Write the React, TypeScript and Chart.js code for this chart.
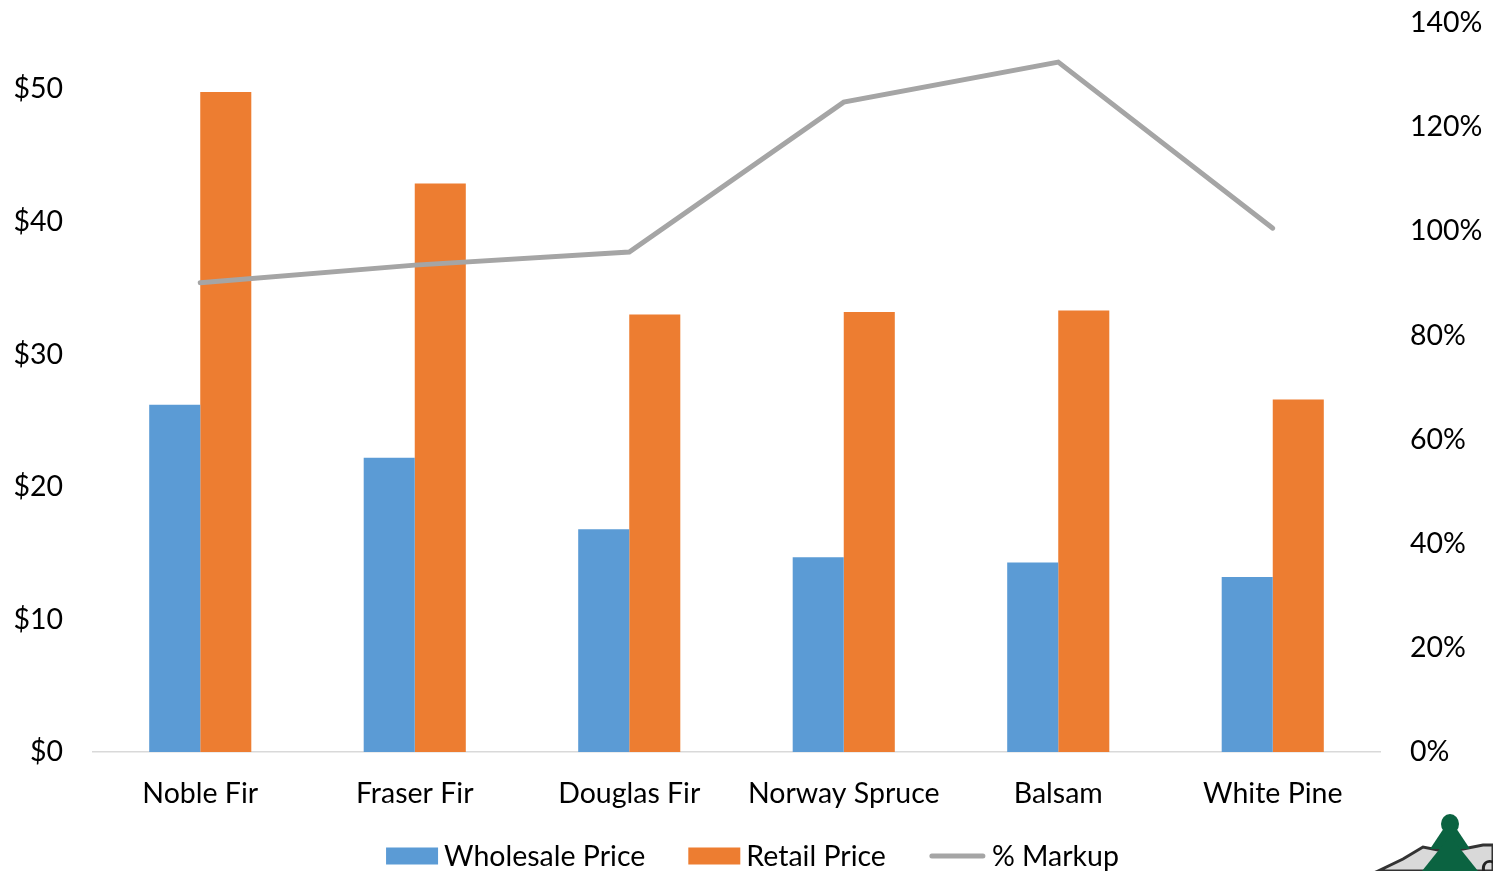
import React, { useEffect, useRef } from "react";
import { Chart, registerables } from "chart.js";

Chart.register(...registerables);

const categories = ["Noble Fir", "Fraser Fir", "Douglas Fir", "Norway Spruce", "Balsam", "White Pine"];
const wholesalePrice = [26.2, 22.2, 16.8, 14.7, 14.3, 13.2];
const retailPrice = [49.8, 42.9, 33.0, 33.2, 33.3, 26.6];
const markupPct = [90.1, 93.5, 96.0, 124.8, 132.5, 100.6];
const leftTicks = [0, 10, 20, 30, 40, 50];
const rightTicks = [0, 20, 40, 60, 80, 100, 120, 140];
const legendOrder = ["Wholesale Price", "Retail Price", "% Markup"];

const FONT = "Lato, 'Open Sans', sans-serif";
const FONT_SIZE = 28.5;

const legendPlugin = {
  id: "customLegend",
  afterDraw(chart: any) {
    const ctx = chart.ctx;
    const ds = legendOrder.map((l) => chart.data.datasets.find((d: any) => d.label === l));
    ctx.save();
    ctx.font = `${FONT_SIZE}px ${FONT}`;
    ctx.textBaseline = "middle";
    const items = ds.map((d: any) => {
      const isLine = d.type === "line";
      const bw = isLine ? 57 : 52;
      const tw = ctx.measureText(d.label).width;
      return { d, isLine, bw, tw, w: bw + 6 + tw };
    });
    const gap = 43;
    const total = items.reduce((s: number, it: any) => s + it.w, 0) + gap * (items.length - 1);
    let x = chart.width / 2 + 6 - total / 2;
    const y = 856;
    items.forEach((it: any) => {
      if (it.isLine) {
        ctx.strokeStyle = it.d.borderColor;
        ctx.lineWidth = 5;
        ctx.lineCap = "round";
        ctx.beginPath();
        ctx.moveTo(x + 3, y);
        ctx.lineTo(x + it.bw - 3, y);
        ctx.stroke();
      } else {
        ctx.fillStyle = it.d.backgroundColor;
        ctx.fillRect(x, y - 8.5, it.bw, 17);
      }
      ctx.fillStyle = "#000";
      ctx.fillText(it.d.label, x + it.bw + 6, y + 1);
      x += it.w + gap;
    });
    ctx.restore();
  },
};

const logoPlugin = {
  id: "logo",
  afterDraw(chart: any) {
    const ctx = chart.ctx;
    const W = chart.width;
    const H = chart.height;
    ctx.save();
    ctx.fillStyle = "#d9d9d9";
    ctx.strokeStyle = "#333";
    ctx.lineWidth = 3;
    ctx.beginPath();
    ctx.moveTo(W - 115, H);
    ctx.lineTo(W - 90, H - 12);
    ctx.lineTo(W - 70, H - 24);
    ctx.lineTo(W - 50, H - 20);
    ctx.lineTo(W - 30, H - 22);
    ctx.lineTo(W - 10, H - 26);
    ctx.lineTo(W, H - 26);
    ctx.lineTo(W, H);
    ctx.closePath();
    ctx.fill();
    ctx.stroke();
    ctx.fillStyle = "#0b6341";
    const cx = W - 43;
    ctx.beginPath();
    ctx.ellipse(cx, H - 47, 9, 10, 0, 0, Math.PI * 2);
    ctx.fill();
    ctx.beginPath();
    ctx.moveTo(cx, H - 52);
    ctx.lineTo(cx - 20, H - 22);
    ctx.lineTo(cx + 20, H - 22);
    ctx.closePath();
    ctx.fill();
    ctx.beginPath();
    ctx.moveTo(cx, H - 35);
    ctx.lineTo(cx - 28, H);
    ctx.lineTo(cx + 28, H);
    ctx.closePath();
    ctx.fill();
    ctx.fillStyle = "#222";
    ctx.font = `bold 22px ${FONT}`;
    ctx.textBaseline = "alphabetic";
    ctx.fillText("C", W - 12, H + 6);
    ctx.restore();
  },
};

export default function App() {
  const ref = useRef<HTMLCanvasElement | null>(null);

  useEffect(() => {
    if (!ref.current) return;
    const chart = new Chart(ref.current, {
      type: "bar",
      data: {
        labels: categories,
        datasets: [
          {
            type: "line",
            label: "% Markup",
            data: markupPct,
            yAxisID: "y1",
            borderColor: "#A5A5A5",
            backgroundColor: "#A5A5A5",
            borderWidth: 5,
            borderCapStyle: "round",
            borderJoinStyle: "miter",
            pointRadius: 0,
            tension: 0,
            order: 0,
          } as any,
          {
            type: "bar",
            label: "Wholesale Price",
            data: wholesalePrice,
            yAxisID: "y",
            backgroundColor: "#5B9BD5",
            categoryPercentage: 0.476,
            barPercentage: 1,
            order: 1,
          },
          {
            type: "bar",
            label: "Retail Price",
            data: retailPrice,
            yAxisID: "y",
            backgroundColor: "#ED7D31",
            categoryPercentage: 0.476,
            barPercentage: 1,
            order: 1,
          },
        ],
      },
      options: {
        animation: false,
        responsive: true,
        maintainAspectRatio: false,
        layout: { padding: { top: 23, bottom: 47, left: 0, right: 0 } },
        plugins: {
          legend: { display: false },
          tooltip: { enabled: false },
        },
        scales: {
          x: {
            grid: { display: false, drawTicks: true, tickLength: 25 },
            border: { display: true, color: "#D9D9D9", width: 1.5 },
            ticks: {
              color: "#000",
              font: { family: FONT, size: FONT_SIZE },
              padding: 0,
              maxRotation: 0,
            },
            afterFit: (s: any) => {
              s.height = 72;
            },
          },
          y: {
            position: "left",
            min: 0,
            max: 55,
            grid: { display: false, drawTicks: true, tickLength: 30 },
            border: { display: false },
            afterBuildTicks: (s: any) => {
              s.ticks = leftTicks.map((v) => ({ value: v }));
            },
            ticks: {
              color: "#000",
              font: { family: FONT, size: FONT_SIZE },
              padding: 0,
              callback: (v: any) => "$" + v,
            },
            afterFit: (s: any) => {
              s.width = 93;
            },
          },
          y1: {
            position: "right",
            min: 0,
            max: 140,
            grid: { display: false, drawTicks: true, tickLength: 30 },
            border: { display: false },
            afterBuildTicks: (s: any) => {
              s.ticks = rightTicks.map((v) => ({ value: v }));
            },
            ticks: {
              color: "#000",
              font: { family: FONT, size: FONT_SIZE },
              padding: 0,
              callback: (v: any) => v + "%",
            },
            afterFit: (s: any) => {
              s.width = 113;
            },
          },
        },
      },
      plugins: [legendPlugin, logoPlugin],
    });
    return () => chart.destroy();
  }, []);

  return (
    <div style={{ position: "fixed", left: 0, top: 0, width: 1493, height: 871, background: "#fff" }}>
      <canvas ref={ref} />
    </div>
  );
}
